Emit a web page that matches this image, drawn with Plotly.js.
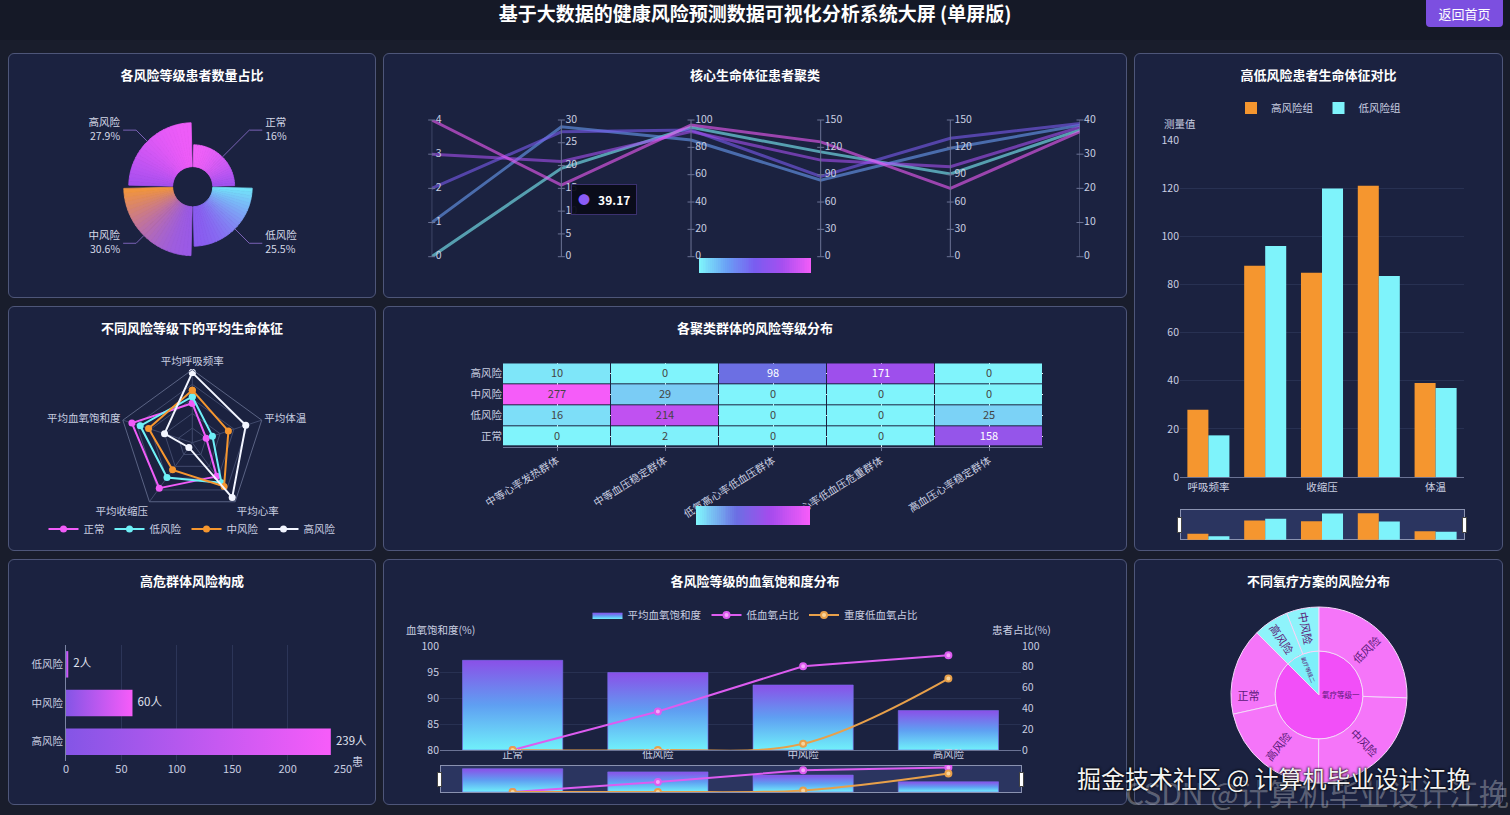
<!DOCTYPE html>
<html><head><meta charset="utf-8">
<script src="https://cdn.plot.ly/plotly-3.0.1.min.js"></script>
<style>
body{margin:0;background:#191d2c;width:1510px;height:815px;overflow:hidden;font-family:"Noto Sans CJK SC","Noto Sans",sans-serif;position:relative;}
#hdr{position:absolute;left:0;top:0;width:1510px;height:40px;background:#151927;}
#ttl{position:absolute;left:0;top:0;width:1510px;text-align:center;line-height:26px;color:#fff;font-size:19px;font-weight:bold;}
#btn{position:absolute;left:1426px;top:0;width:77px;height:27px;background:#7c4fe0;color:#fff;font-size:13px;line-height:27px;text-align:center;border-radius:0 0 4px 4px;}
.panel{position:absolute;background:#1b2240;border:1px solid #4e5679;border-radius:6px;box-sizing:border-box;}
.chart{position:absolute;}
.wm1{position:absolute;left:1077px;top:760px;font-size:24px;color:#f2f2f2;text-shadow:0 0 3px #000,0 0 2px #000;white-space:nowrap;z-index:10;}
.wm2{position:absolute;left:1125px;top:770px;font-size:30px;color:rgba(255,255,255,0.30);white-space:nowrap;z-index:9;}
</style></head>
<body>
<div id="hdr"></div>
<div id="ttl">基于大数据的健康风险预测数据可视化分析系统大屏 (单屏版)</div>
<div id="btn">返回首页</div>
<div id="panels"></div>
<div class="wm2">CSDN @计算机毕业设计江挽</div>
<div class="wm1">掘金技术社区 @ 计算机毕业设计江挽</div>
<script>
// ================= DATA =================
// Panel 1: risk level share (rose donut)
const riskLevels = ['正常','低风险','中风险','高风险'];
const riskShare = [16, 25.5, 30.6, 27.9];

// Panel 2: parallel coordinates of clusters
const pcDims = ['聚类群组','平均呼吸频率','平均血氧','平均收缩压','平均心率','平均体温'];
const pcMax = [4, 30, 100, 150, 150, 40];
const pcTicks = [[0,1,2,3,4],[0,5,10,15,20,25,30],[0,20,40,60,80,100],[0,30,60,90,120,150],[0,30,60,90,120,150],[0,10,20,30,40]];
const cluster0 = [0, 19.4, 94.6, 115, 90.7, 37.1];
const cluster1 = [1, 28.5, 85.4, 84, 119, 38.5];
const cluster2 = [2, 27.4, 92.7, 88, 130, 39.0];
const cluster3 = [3, 20.9, 91.5, 106, 98.8, 37.9];
const cluster4 = [4, 15.7, 96.3, 126, 75, 36.6];
const tooltipValue = '39.17';

// Panel 3: high vs low risk vitals
const vitalCats = ['呼吸频率','血氧饱和度','收缩压','心率','体温'];
const highRiskVals = [27.9, 87.8, 84.9, 121, 39.1];
const lowRiskVals = [17.3, 96.0, 119.9, 83.5, 37.0];

// Panel 4: radar (normalised scores)
const radarAxes = ['平均呼吸频率','平均体温','平均心率','平均收缩压','平均血氧饱和度'];
const radarNormal = [0.54, 0.20, 0.57, 0.77, 0.87];
const radarLow    = [0.63, 0.29, 0.68, 0.59, 0.75];
const radarMid    = [0.72, 0.52, 0.74, 0.46, 0.63];
const radarHigh   = [0.96, 0.77, 0.93, 0.08, 0.40];

// Panel 5: heatmap cluster x risk
const clusterGroups = ['中等心率发热群体','中等血压稳定群体','低氧高心率低血压群体','高心率低血压危重群体','高血压心率稳定群体'];
const riskRows = ['正常','低风险','中风险','高风险'];
const rowNormal = [0, 2, 0, 0, 158];
const rowLow    = [16, 214, 0, 0, 25];
const rowMid    = [277, 29, 0, 0, 0];
const rowHigh   = [10, 0, 98, 171, 0];

// Panel 6: high-risk group composition
const hrLevels = ['高风险','中风险','低风险'];
const hrCounts = [239, 60, 2];

// Panel 7: blood oxygen by risk level
const spo2Levels = ['正常','低风险','中风险','高风险'];
const spo2Avg = [97.25, 94.9, 92.5, 87.6];
const lowO2Pct = [0, 37, 80.6, 91];
const severeO2Pct = [0, 0, 6, 68.7];

// Panel 8: oxygen therapy sunburst (listed in counter-clockwise drawing order)
const sbIds     = ['g2','g1','g2-中','g2-高','g1-正','g1-高','g1-中','g1-低'];
const sbLabels  = ['氧疗等级二','氧疗等级一','中风险','高风险','正常','高风险','中风险','低风险'];
const sbParents = ['','','g2','g2','g1','g1','g1','g1'];
const sbValues  = [125, 875, 60, 65, 160, 214, 246, 255];

// ================= HELPERS =================
const FONT = '"Noto Sans CJK SC","Noto Sans",sans-serif';
const TXT = '#c9cee0';
const cfg = {displayModeBar:false};
function hex2rgb(h){h=h.replace('#','');return [parseInt(h.substr(0,2),16),parseInt(h.substr(2,2),16),parseInt(h.substr(4,2),16)];}
function mix(a,b,t){const A=hex2rgb(a),B=hex2rgb(b);return 'rgb('+A.map((v,i)=>Math.round(v+(B[i]-v)*t)).join(',')+')';}
function sampleScale(cs,t){for(let k=1;k<cs.length;k++){if(t<=cs[k][0]){const u=(t-cs[k-1][0])/(cs[k][0]-cs[k-1][0]);return mix(cs[k-1][1],cs[k][1],u);}}return cs[cs.length-1][1];}
function panel(id,x,y,w,h){
  const p=document.createElement('div');p.className='panel';p.style.cssText=`left:${x}px;top:${y}px;width:${w}px;height:${h}px;`;
  document.getElementById('panels').appendChild(p);
  const c=document.createElement('div');c.className='chart';c.id=id;c.style.cssText=`left:${x}px;top:${y}px;width:${w}px;height:${h}px;`;
  document.getElementById('panels').appendChild(c);
}
function L(w,h,title,extra){
  return Object.assign({width:w,height:h,paper_bgcolor:'rgba(0,0,0,0)',plot_bgcolor:'rgba(0,0,0,0)',
    font:{family:FONT,color:TXT,size:11},
    title:{text:title,font:{size:13,color:'#ffffff',weight:700,family:FONT},x:0.5,xanchor:'center',xref:'container',y:1-22/h,yanchor:'middle',yref:'container'},
    showlegend:false,margin:{l:0,r:0,t:0,b:0}},extra);
}
// gradient strip (visualMap look-alike) drawn as a small heatmap on its own axes
function gradStrip(scale,xa,ya){
  const n=60,z=[[]];for(let i=0;i<n;i++)z[0].push(i);
  return {type:'heatmap',z:z,colorscale:scale,showscale:false,xaxis:xa,yaxis:ya,hoverinfo:'skip'};
}
panel('c1',8,53,368,245);
panel('c2',383,53,744,245);
panel('c3',1134,53,369,498);
panel('c4',8,306,368,245);
panel('c5',383,306,744,245);
panel('c6',8,559,368,246);
panel('c7',383,559,744,246);
panel('c8',1134,559,369,246);

// ================= PANEL 1 : rose donut =================
(function(){
  const W=368,H=245,cx=184.7,cy=133.7,R=110;
  const rmin=-6.7, rmax=52.8, k=R/(rmax-rmin);
  const val=p=>p/k+rmin;
  const BASE=val(20);
  const sliceTop=['#f061f8','#72e6fa','#f3963a','#ee5cf8'];
  const sliceBot=['#9f52ef','#8a5cf0','#9a5ae6','#a44fef'];
  const N=24,gap=3;
  const th=[],rr=[],ww=[],cc=[],bb=[];
  riskShare.forEach((v,i)=>{
    const a0=i*90+gap/2,span=90-gap,step=span/N;
    const ys=[];for(let q=0;q<=N;q++)ys.push(Math.cos((a0+q*step)*Math.PI/180));
    const ymax=Math.max(...ys),ymin=Math.min(...ys);
    for(let q=0;q<N;q++){
      const a=a0+(q+0.5)*step,y=Math.cos(a*Math.PI/180);
      th.push(a);ww.push(step*1.05);rr.push(v-BASE);bb.push(BASE);
      cc.push(mix(sliceTop[i],sliceBot[i],(ymax-y)/(ymax-ymin)));
    }
  });
  const traces=[{type:'barpolar',theta:th,r:rr,base:bb,width:ww,marker:{color:cc,opacity:1,line:{width:0.8,color:cc}},hoverinfo:'skip'}];
  riskShare.forEach((v,i)=>{
    const phi=i*90+45,rad=phi*Math.PI/180,s=Math.sign(Math.sin(rad));
    const bx=80*Math.sin(rad),by=80*Math.cos(rad);
    const cxp=bx+s*13,cyp=by,dxp=cxp+s*3;
    const pc=Math.hypot(cxp,cyp),tc=Math.atan2(cxp,cyp)*180/Math.PI;
    const pd=Math.hypot(dxp,cyp),td=Math.atan2(dxp,cyp)*180/Math.PI;
    traces.push({type:'scatterpolar',mode:'lines',r:[v,val(80),val(pc)],theta:[phi,phi,tc],line:{color:'#7a62b5',width:1},hoverinfo:'skip'});
    traces.push({type:'scatterpolar',mode:'text',r:[val(pd)],theta:[td],text:[riskLevels[i]+'<br>'+riskShare[i]+'%'],
      textposition:s>0?'middle right':'middle left',textfont:{size:10.5,color:'#d5d9e8'},hoverinfo:'skip'});
  });
  Plotly.newPlot('c1',traces,L(W,H,'各风险等级患者数量占比',{
    polar:{domain:{x:[(cx-R)/W,(cx+R)/W],y:[1-(cy+R)/H,1-(cy-R)/H]},bgcolor:'rgba(0,0,0,0)',barmode:'overlay',
      radialaxis:{range:[rmin,rmax],visible:false},angularaxis:{visible:false,rotation:90,direction:'clockwise'}}
  }),cfg);
})();

// ================= PANEL 2 : parallel coordinates =================
(function(){
  const W=744,H=245;
  const pcScale=[[0,'#7ef3fb'],[0.25,'#6a9ef5'],[0.5,'#7a5cf0'],[0.75,'#a64ff0'],[1,'#f05cf8']];
  const clusters=[cluster0,cluster1,cluster2,cluster3,cluster4];
  const xs=pcDims.map((d,i)=>i);
  const traces=[];
  clusters.forEach(c=>{
    traces.push({type:'scatter',mode:'lines',x:xs,y:c.map((v,i)=>v/pcMax[i]),line:{color:sampleScale(pcScale,c[0]/4),width:3},opacity:0.6,hoverinfo:'skip'});
  });
  pcDims.forEach((d,i)=>{
    traces.push({type:'scatter',mode:'lines',x:[i,i],y:[0,1],line:{color:'#6b7394',width:1},hoverinfo:'skip'});
    traces.push({type:'scatter',mode:'markers+text',x:pcTicks[i].map(()=>i),y:pcTicks[i].map(t=>t/pcMax[i]),text:pcTicks[i].map(String),
      textposition:'middle right',textfont:{size:10.5,color:TXT},marker:{symbol:'line-ew',size:5,line:{color:'#6b7394',width:1}},cliponaxis:false,hoverinfo:'skip'});
    traces.push({type:'scatter',mode:'text',x:[i],y:[1+17/136.7],text:[d],textposition:'middle center',textfont:{size:10.5,color:TXT},cliponaxis:false,hoverinfo:'skip'});
  });
  traces.push(gradStrip(pcScale,'x2','y2'));
  Plotly.newPlot('c2',traces,L(W,H,'核心生命体征患者聚类',{
    xaxis:{domain:[48.7/W,697/W],range:[0,5],visible:false,fixedrange:true},
    yaxis:{domain:[1-203.7/H,1-67/H],range:[0,1],visible:false,fixedrange:true},
    xaxis2:{domain:[316/W,428/W],visible:false,fixedrange:true,anchor:'y2'},
    yaxis2:{domain:[1-220/H,1-205/H],visible:false,fixedrange:true,anchor:'x2'},
    annotations:[{x:1.325,y:0.422,xref:'x',yref:'y',showarrow:false,text:'<span style="color:#8b5cf6">●</span>   <b>'+tooltipValue+'</b>',
      font:{size:12,color:'#ffffff'},bgcolor:'rgba(10,12,24,0.95)',bordercolor:'#3b3170',borderwidth:1,borderpad:6}]
  }),cfg);
})();

// ================= PANEL 3 : grouped bars =================
(function(){
  const W=369,H=498;
  const xs=vitalCats.map((c,i)=>i);
  const traces=[
    {type:'bar',name:'高风险组',x:xs,y:highRiskVals,marker:{color:'#f5962f'},hoverinfo:'skip'},
    {type:'bar',name:'低风险组',x:xs,y:lowRiskVals,marker:{color:'#7ef3fb'},hoverinfo:'skip'}
  ];
  Plotly.newPlot('c3',traces,L(W,H,'高低风险患者生命体征对比',{
    margin:{l:46,r:39,t:87,b:12},barmode:'group',bargap:0.26,bargroupgap:0,showlegend:true,
    legend:{orientation:'h',x:0.5,xanchor:'center',xref:'container',y:1-55/H,yref:'container',yanchor:'middle',font:{size:10.5,color:TXT},itemwidth:30},
    xaxis:{range:[-0.5,4.5],tickvals:xs.filter(i=>i%2===0),ticktext:vitalCats.filter((c,i)=>i%2===0),showline:true,linecolor:'#6b7394',showgrid:false,zeroline:false,tickfont:{size:10.5},
      rangeslider:{visible:true,thickness:0.077,bgcolor:'#2b3560',bordercolor:'#8a92b0',borderwidth:1}},
    yaxis:{range:[0,140],dtick:20,gridcolor:'#283152',zeroline:false,tickfont:{size:10.5},fixedrange:true},
    annotations:[{xref:'paper',yref:'paper',x:0,y:1+17/339,text:'测量值',showarrow:false,font:{size:10.5,color:TXT},xanchor:'center',yanchor:'middle'}]
  }),cfg);
})();

// ================= PANEL 4 : radar =================
(function(){
  const W=368,H=245,cx=184.3,cy=136.7,R=73;
  const series=[['正常',radarNormal,'#f05cf8'],['低风险',radarLow,'#6ef0f7'],['中风险',radarMid,'#f5962f'],['高风险',radarHigh,'#f2f5ff']];
  const traces=series.map(s=>({type:'scatterpolar',name:s[0],r:s[1].concat([s[1][0]]),theta:radarAxes.concat([radarAxes[0]]),mode:'lines+markers',
    line:{color:s[2],width:2},marker:{color:s[2],size:7},hoverinfo:'skip'}));
  Plotly.newPlot('c4',traces,L(W,H,'不同风险等级下的平均生命体征',{
    showlegend:true,
    legend:{orientation:'h',x:0.5,xanchor:'center',y:1-223/H,yanchor:'middle',font:{size:10.5,color:TXT},itemwidth:30},
    polar:{domain:{x:[(cx-R)/W,(cx+R)/W],y:[1-(cy+R)/H,1-(cy-R)/H]},bgcolor:'rgba(0,0,0,0)',gridshape:'linear',
      radialaxis:{range:[0,1],tickvals:[0.2,0.4,0.6,0.8,1],showticklabels:false,showline:false,gridcolor:'#414a6c',ticks:''},
      angularaxis:{direction:'clockwise',rotation:90,linecolor:'#5a6384',gridcolor:'#414a6c',tickfont:{size:10.5,color:TXT},ticks:''}}
  }),cfg);
})();

// ================= PANEL 5 : heatmap =================
(function(){
  const W=744,H=245;
  const hmScale=[[0,'#80f4fc'],[0.35,'#6b6fe3'],[0.65,'#a44bed'],[1,'#f55cf9']];
  const traces=[{type:'heatmap',x:clusterGroups,y:riskRows,z:[rowNormal,rowLow,rowMid,rowHigh],colorscale:hmScale,zmin:0,zmax:277,
    xgap:1,ygap:1,texttemplate:'%{z}',textfont:{size:11},hoverinfo:'skip',showscale:false},
    gradStrip(hmScale,'x2','y2')];
  Plotly.newPlot('c5',traces,L(W,H,'各聚类群体的风险等级分布',{
    xaxis:{domain:[120/W,660/W],tickangle:-32,tickfont:{size:10.5,color:TXT},showline:true,linecolor:'#6b7394',ticks:'outside',ticklen:3,tickcolor:'#6b7394',ticklabelstandoff:0,fixedrange:true},
    yaxis:{domain:[1-140.7/H,1-57.3/H],tickfont:{size:10.5,color:TXT},ticks:'',showline:false,fixedrange:true},
    xaxis2:{domain:[313/W,427/W],visible:false,fixedrange:true,anchor:'y2'},
    yaxis2:{domain:[1-219/H,1-200/H],visible:false,fixedrange:true,anchor:'x2'}
  }),cfg);
})();

// ================= PANEL 6 : horizontal gradient bars =================
(function(){
  const W=368,H=246,hh=0.342;
  const traces=[];
  hrCounts.forEach((v,i)=>{
    traces.push({type:'scatter',mode:'lines',x:[0,v,v,0,0],y:[i-hh,i-hh,i+hh,i+hh,i-hh],fill:'toself',line:{width:0},
      fillgradient:{type:'horizontal',colorscale:[[0,'#8455e6'],[1,'#f75cf9']]},hoverinfo:'skip'});
  });
  traces.push({type:'scatter',mode:'text',x:hrCounts,y:hrCounts.map((v,i)=>i),text:hrCounts.map(v=>'  '+v+'人'),textposition:'middle right',
    textfont:{size:11.5,color:'#e0e4f0'},cliponaxis:false,hoverinfo:'skip'});
  Plotly.newPlot('c6',traces,L(W,H,'高危群体风险构成',{
    margin:{l:58,r:33,t:86,b:44},
    xaxis:{range:[0,250],dtick:50,gridcolor:'#2c3558',zeroline:false,showline:false,tickfont:{size:11},fixedrange:true},
    yaxis:{range:[-0.5,2.5],tickvals:[0,1,2],ticktext:hrLevels,showgrid:false,zeroline:false,showline:true,linecolor:'#7b84a4',tickfont:{size:10.5},fixedrange:true},
    annotations:[{xref:'paper',yref:'paper',x:1.08,y:-0.09,text:'患',showarrow:false,font:{size:11,color:TXT}}]
  }),cfg);
})();

// ================= PANEL 7 : bars + lines =================
(function(){
  const W=744,H=246,hw=0.345;
  const traces=[];
  spo2Avg.forEach((v,i)=>{
    traces.push({type:'scatter',mode:'lines',name:'平均血氧饱和度',legendgroup:'bar',showlegend:i===0,x:[i-hw,i+hw,i+hw,i-hw,i-hw],y:[80,80,v,v,80],fill:'toself',
      line:{width:0.6,color:'#7a6cf0'},fillgradient:{type:'vertical',colorscale:[[0,'#70f0fa'],[0.5,'#5f9ff2'],[1,'#8a50e8']]},hoverinfo:'skip'});
  });
  const xs=spo2Levels.map((c,i)=>i);
  traces.push({type:'scatter',mode:'lines+markers',name:'低血氧占比',x:xs,y:lowO2Pct,yaxis:'y2',line:{color:'#dd5cf0',width:2},
    marker:{size:6,color:'#f3a8fa',line:{color:'#dd5cf0',width:2}},hoverinfo:'skip'});
  traces.push({type:'scatter',mode:'lines+markers',name:'重度低血氧占比',x:xs,y:severeO2Pct,yaxis:'y2',line:{color:'#e8a04a',width:2,shape:'spline'},
    marker:{size:6,color:'#f8d49a',line:{color:'#e8a04a',width:2}},hoverinfo:'skip'});
  // category labels (drawn on an overlay x axis so they sit on the slider strip as in the original)
  traces.push({type:'scatter',mode:'text',x:xs,y:xs.map(()=>80),xaxis:'x2',text:spo2Levels,textposition:'bottom center',
    textfont:{size:10.5,color:TXT},cliponaxis:false,showlegend:false,hoverinfo:'skip'});
  Plotly.newPlot('c7',traces,L(W,H,'各风险等级的血氧饱和度分布',{
    margin:{l:57,r:106,t:87,b:13},showlegend:true,
    legend:{orientation:'h',x:0.5,xanchor:'center',xref:'container',y:1-56/H,yref:'container',yanchor:'middle',font:{size:10.5,color:TXT},itemwidth:30},
    xaxis:{range:[-0.5,3.5],tickvals:xs,showticklabels:false,ticks:'',showline:true,linecolor:'#6b7394',showgrid:false,zeroline:false,
      rangeslider:{visible:true,thickness:0.185,bgcolor:'#2b3560',bordercolor:'#8a92b0',borderwidth:1}},
    xaxis2:{range:[-0.5,3.5],overlaying:'x',visible:false,fixedrange:true},
    yaxis:{range:[80,100],dtick:5,gridcolor:'#283152',zeroline:false,tickfont:{size:10.5},fixedrange:true},
    yaxis2:{range:[0,100],dtick:20,overlaying:'y',side:'right',showgrid:false,zeroline:false,tickfont:{size:10.5},fixedrange:true},
    annotations:[
      {xref:'paper',yref:'paper',x:0,y:1+17.7/111.6,text:'血氧饱和度(%)',showarrow:false,font:{size:10.5,color:TXT},xanchor:'center',yanchor:'middle'},
      {xref:'paper',yref:'paper',x:1,y:1+17.7/111.6,text:'患者占比(%)',showarrow:false,font:{size:10.5,color:TXT},xanchor:'center',yanchor:'middle'}]
  }),cfg);
})();

// ================= PANEL 8 : sunburst =================
(function(){
  const W=369,H=246,cx=185,cy=136,R=88;
  const cols=sbIds.map(id=>id==='g1'?'#f24ff8':id==='g2'?'#7ef0fa':id.startsWith('g1')?'#f575f9':'#8ef3fb');
  const traces=[{type:'sunburst',ids:sbIds,labels:sbLabels,parents:sbParents,values:sbValues,branchvalues:'total',sort:false,
    rotation:90,insidetextorientation:'radial',marker:{colors:cols,line:{color:'#f6d8fa',width:1}},leaf:{opacity:1},
    textfont:{size:11,color:'#5a1a78',family:FONT},hoverinfo:'skip',domain:{x:[(cx-R)/W,(cx+R)/W],y:[1-(cy+R)/H,1-(cy-R)/H]}}];
  Plotly.newPlot('c8',traces,L(W,H,'不同氧疗方案的风险分布',{}),cfg);
})();
</script>
</body></html>
